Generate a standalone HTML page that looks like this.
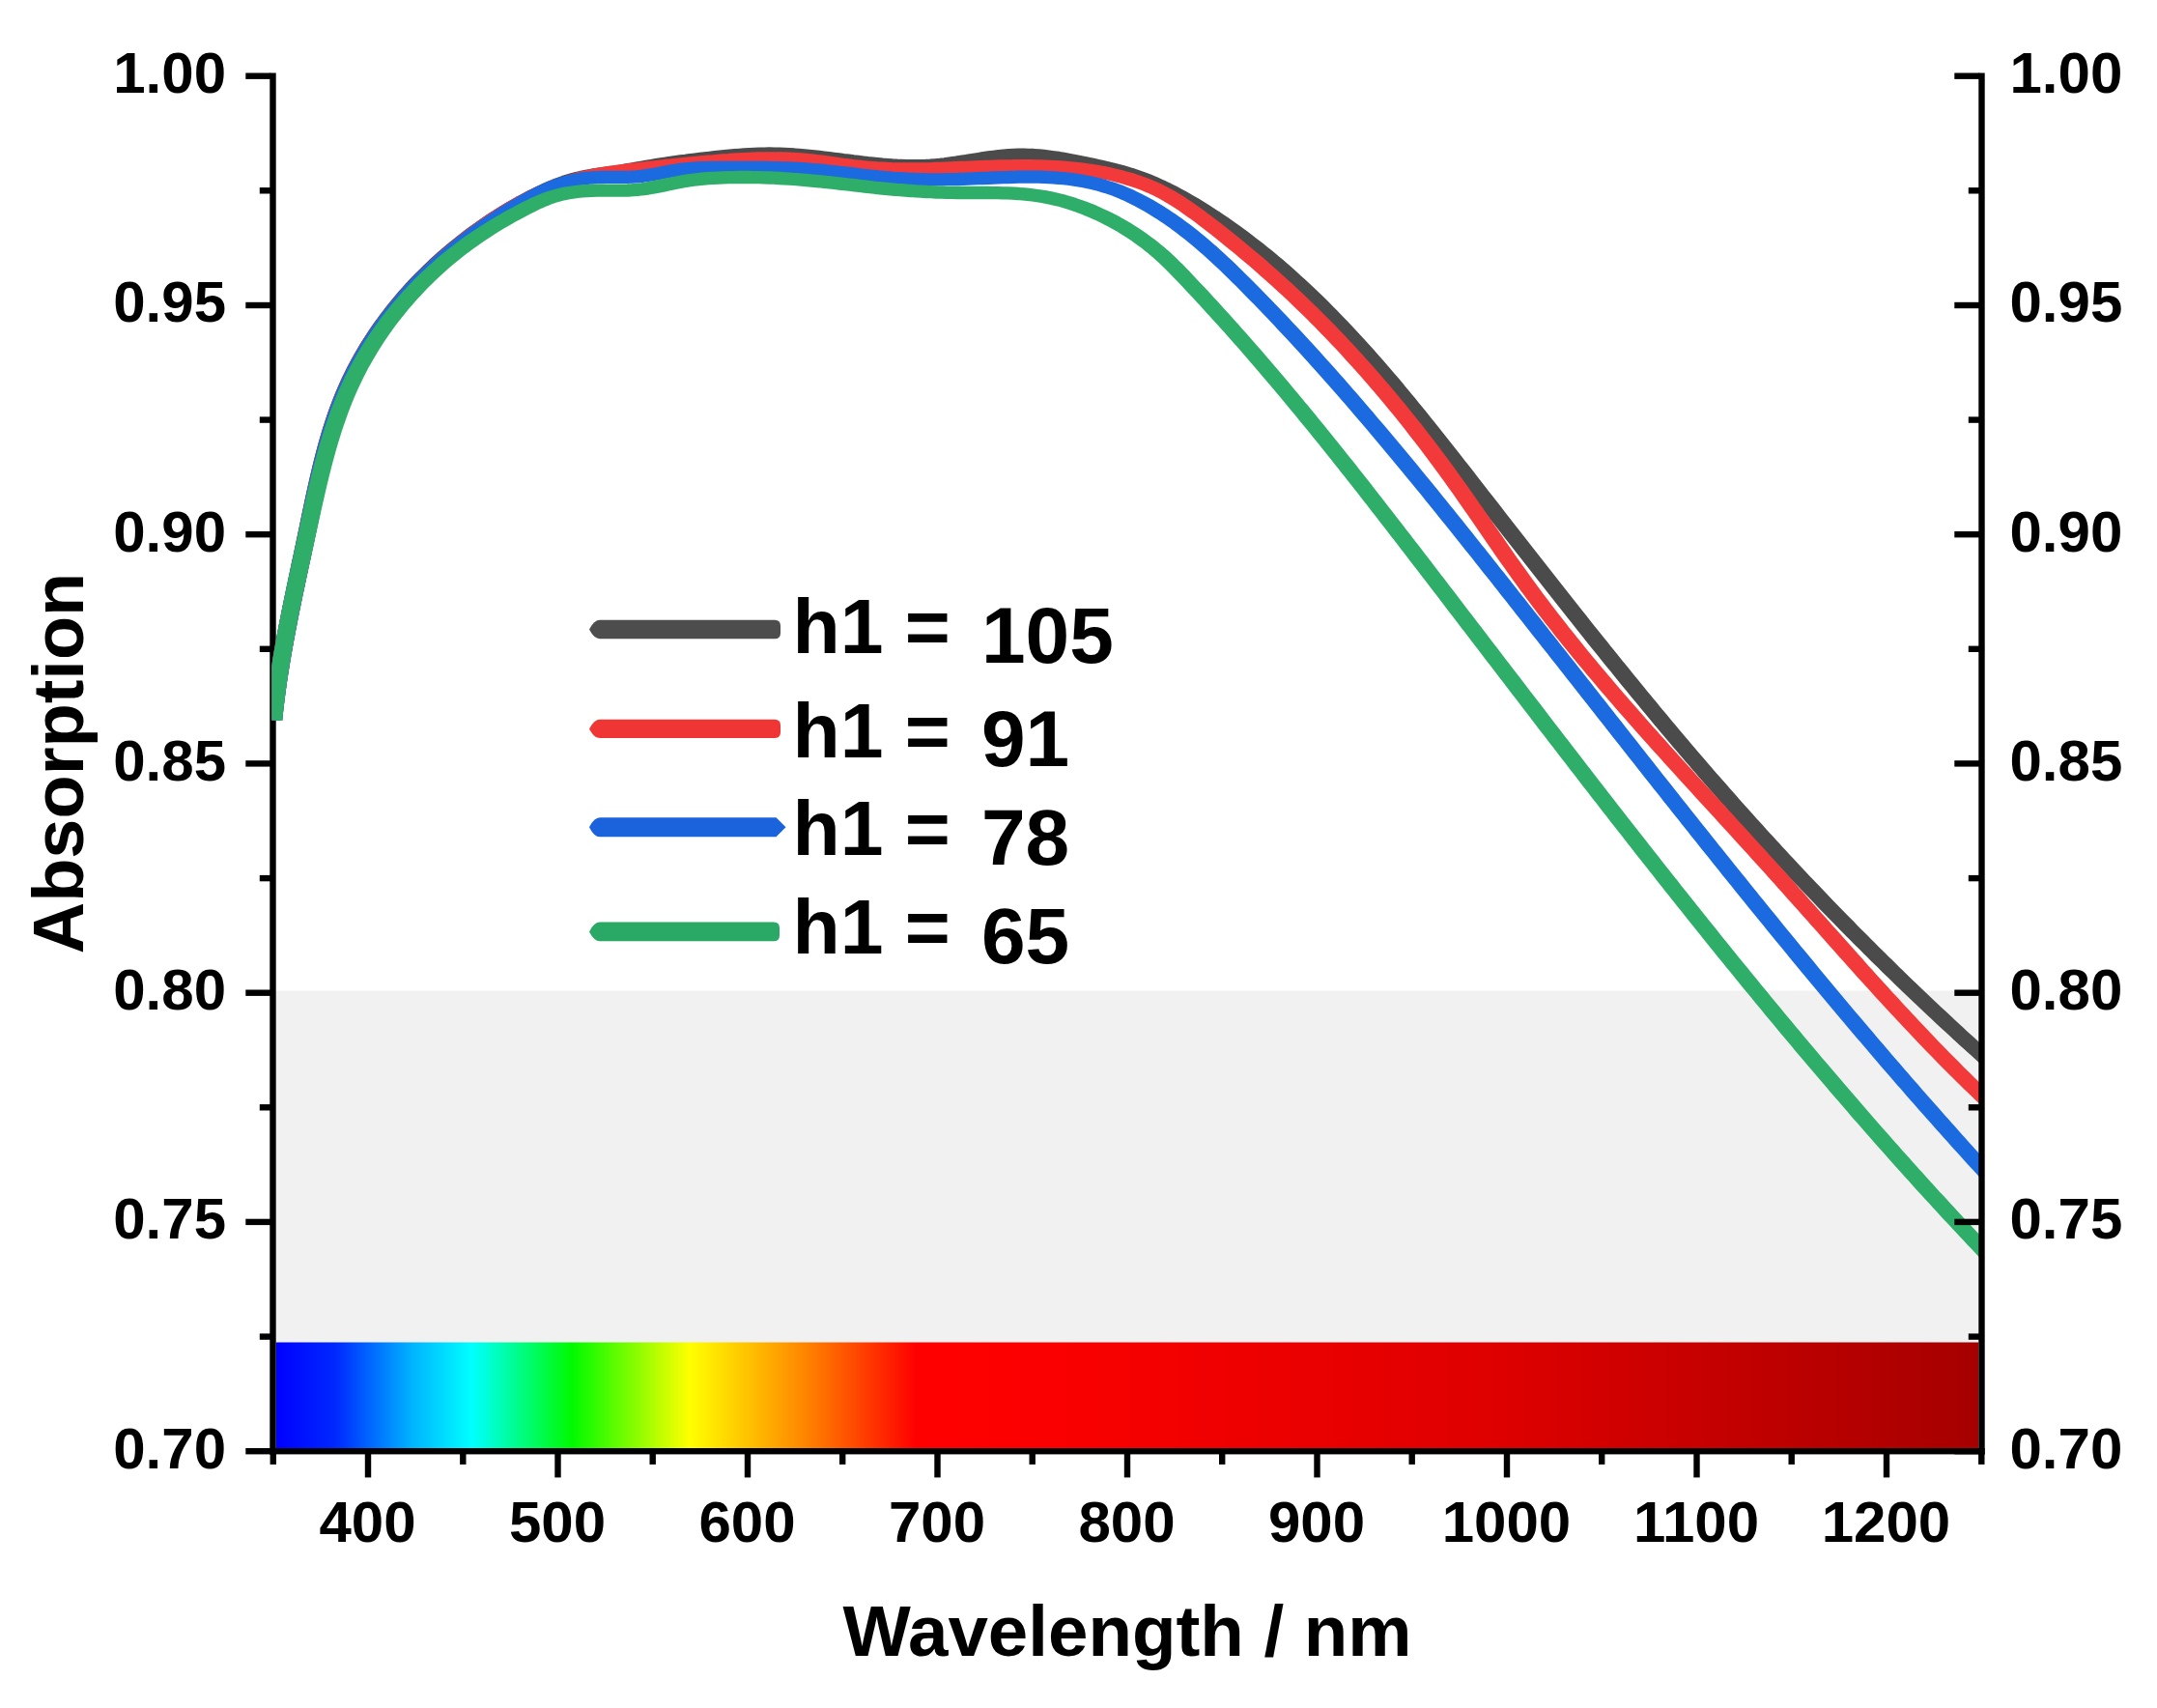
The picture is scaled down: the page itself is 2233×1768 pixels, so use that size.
<!DOCTYPE html>
<html lang="en">
<head>
<meta charset="utf-8">
<title>Absorption vs Wavelength</title>
<style>
html,body{margin:0;padding:0;background:#fff;}
body{width:2233px;height:1768px;overflow:hidden;}
svg{display:block;}
svg text{font-family:"Liberation Sans",sans-serif;font-weight:700;fill:#000;}
</style>
</head>
<body>
<svg width="2233" height="1768" viewBox="0 0 2233 1768">
<defs>
<linearGradient id="spec" x1="285.7" x2="2048.3" y1="0" y2="0" gradientUnits="userSpaceOnUse">
<stop offset="0" stop-color="#0000ff"/>
<stop offset="0.035" stop-color="#0028ff"/>
<stop offset="0.08" stop-color="#00b4ff"/>
<stop offset="0.115" stop-color="#00ffff"/>
<stop offset="0.174" stop-color="#00fa00"/>
<stop offset="0.243" stop-color="#ffff00"/>
<stop offset="0.307" stop-color="#ff8c00"/>
<stop offset="0.376" stop-color="#ff0000"/>
<stop offset="0.46" stop-color="#fa0000"/>
<stop offset="0.72" stop-color="#de0000"/>
<stop offset="1" stop-color="#a60000"/>
</linearGradient>
<clipPath id="plotclip"><rect x="281.3" y="60" width="1772.4" height="1442.2"/></clipPath>
</defs>
<rect x="0" y="0" width="2233" height="1768" fill="#ffffff"/>
<!-- shaded band and spectrum bar -->
<rect x="285.7" y="1025.5" width="1762.6" height="364.5" fill="#f1f1f1"/>
<rect x="285.7" y="1389.5" width="1762.6" height="112.7" fill="url(#spec)"/>
<!-- left and bottom axes -->
<g fill="#000">
<rect x="279.3" y="75.5" width="6.4" height="1429.9"/>
<rect x="279.3" y="1499.0" width="1775.4" height="6.4"/>
<rect x="254.3" y="1499.0" width="26.0" height="6.4"/>
<rect x="268.8" y="1380.4" width="11.5" height="6.4"/>
<rect x="254.3" y="1261.7" width="26.0" height="6.4"/>
<rect x="268.8" y="1143.1" width="11.5" height="6.4"/>
<rect x="254.3" y="1024.5" width="26.0" height="6.4"/>
<rect x="268.8" y="905.9" width="11.5" height="6.4"/>
<rect x="254.3" y="787.2" width="26.0" height="6.4"/>
<rect x="268.8" y="668.6" width="11.5" height="6.4"/>
<rect x="254.3" y="550.0" width="26.0" height="6.4"/>
<rect x="268.8" y="431.4" width="11.5" height="6.4"/>
<rect x="254.3" y="312.8" width="26.0" height="6.4"/>
<rect x="268.8" y="194.1" width="11.5" height="6.4"/>
<rect x="254.3" y="75.5" width="26.0" height="6.4"/>
<rect x="279.6" y="1504.4" width="6.4" height="11.5"/>
<rect x="377.8" y="1504.4" width="6.4" height="25.0"/>
<rect x="476.1" y="1504.4" width="6.4" height="11.5"/>
<rect x="574.3" y="1504.4" width="6.4" height="25.0"/>
<rect x="672.5" y="1504.4" width="6.4" height="11.5"/>
<rect x="770.8" y="1504.4" width="6.4" height="25.0"/>
<rect x="869.0" y="1504.4" width="6.4" height="11.5"/>
<rect x="967.3" y="1504.4" width="6.4" height="25.0"/>
<rect x="1065.5" y="1504.4" width="6.4" height="11.5"/>
<rect x="1163.8" y="1504.4" width="6.4" height="25.0"/>
<rect x="1262.0" y="1504.4" width="6.4" height="11.5"/>
<rect x="1360.3" y="1504.4" width="6.4" height="25.0"/>
<rect x="1458.5" y="1504.4" width="6.4" height="11.5"/>
<rect x="1556.8" y="1504.4" width="6.4" height="25.0"/>
<rect x="1655.0" y="1504.4" width="6.4" height="11.5"/>
<rect x="1753.3" y="1504.4" width="6.4" height="25.0"/>
<rect x="1851.5" y="1504.4" width="6.4" height="11.5"/>
<rect x="1949.8" y="1504.4" width="6.4" height="25.0"/>
<rect x="2048.1" y="1504.4" width="6.4" height="11.5"/>
</g>
<!-- curves -->
<g clip-path="url(#plotclip)">
<g transform="scale(1.38,1)" fill="none" stroke-width="13.3" stroke-linejoin="round" stroke-linecap="butt">
<path d="M205.06,745.6 L205.45,740.5 L205.86,735.3 L206.29,730.3 L206.74,725.2 L207.22,720.1 L207.71,715.0 L208.22,710.0 L208.75,704.9 L209.29,699.9 L209.86,694.9 L210.43,689.8 L211.03,684.8 L211.63,679.8 L212.26,674.8 L212.89,669.8 L213.54,664.8 L214.20,659.9 L214.87,654.9 L215.55,649.9 L216.24,644.9 L216.94,639.9 L217.65,635.0 L218.36,630.0 L219.09,625.0 L219.82,620.1 L220.55,615.1 L221.29,610.1 L222.04,605.2 L222.79,600.2 L223.55,595.3 L224.30,590.3 L225.06,585.3 L225.82,580.3 L226.58,575.4 L227.34,570.4 L228.11,565.4 L228.86,560.4 L229.62,555.4 L230.38,550.4 L231.13,545.4 L231.88,540.4 L232.64,535.4 L233.39,530.4 L234.16,525.4 L234.92,520.3 L235.70,515.3 L236.48,510.3 L237.28,505.3 L238.09,500.3 L238.91,495.3 L239.75,490.3 L240.61,485.4 L241.49,480.4 L242.39,475.4 L243.31,470.5 L244.25,465.6 L245.23,460.6 L246.23,455.7 L247.26,450.8 L248.32,446.0 L249.42,441.1 L250.55,436.3 L251.72,431.5 L252.92,426.7 L254.17,421.9 L255.46,417.2 L256.79,412.5 L258.16,407.8 L259.59,403.1 L261.06,398.5 L262.58,393.9 L264.15,389.4 L265.77,384.8 L267.43,380.3 L269.14,375.8 L270.90,371.4 L272.70,367.0 L274.55,362.6 L276.44,358.3 L278.38,354.0 L280.36,349.7 L282.38,345.5 L284.44,341.3 L286.55,337.1 L288.69,333.0 L290.88,328.9 L293.10,324.8 L295.36,320.8 L297.67,316.8 L300.00,312.9 L302.38,309.0 L304.79,305.1 L307.24,301.3 L309.72,297.5 L312.23,293.7 L314.78,290.0 L317.37,286.4 L319.98,282.8 L322.63,279.2 L325.31,275.6 L328.01,272.1 L330.75,268.7 L333.52,265.3 L336.32,261.9 L339.14,258.6 L341.99,255.3 L344.87,252.1 L347.78,248.9 L350.71,245.8 L353.66,242.7 L356.64,239.6 L359.64,236.7 L362.67,233.7 L365.72,230.8 L368.79,228.0 L371.88,225.2 L374.99,222.4 L378.12,219.7 L381.27,217.0 L384.44,214.4 L387.63,211.9 L390.83,209.4 L394.05,207.0 L397.29,204.6 L400.54,202.2 L403.82,200.0 L407.11,197.8 L410.43,195.7 L413.77,193.6 L417.15,191.7 L420.55,189.9 L423.99,188.2 L427.46,186.7 L430.97,185.3 L434.52,184.0 L438.11,182.9 L441.74,181.9 L445.40,181.1 L449.09,180.3 L452.78,179.6 L456.48,178.9 L460.18,178.2 L463.85,177.5 L467.51,176.7 L471.15,175.8 L474.78,174.9 L478.41,174.0 L482.03,173.1 L485.65,172.2 L489.28,171.4 L492.90,170.6 L496.53,169.8 L500.16,169.1 L503.79,168.3 L507.43,167.6 L511.07,166.9 L514.71,166.3 L518.36,165.6 L522.01,165.0 L525.66,164.4 L529.32,163.8 L532.99,163.2 L536.66,162.6 L540.33,162.1 L544.01,161.6 L547.69,161.1 L551.37,160.7 L555.06,160.3 L558.75,159.9 L562.44,159.6 L566.12,159.4 L569.81,159.2 L573.50,159.1 L577.19,159.0 L580.88,159.1 L584.56,159.2 L588.25,159.4 L591.93,159.7 L595.61,160.0 L599.29,160.4 L602.96,160.8 L606.64,161.3 L610.31,161.8 L613.98,162.4 L617.66,163.0 L621.33,163.6 L625.00,164.2 L628.66,164.8 L632.33,165.5 L636.00,166.1 L639.66,166.8 L643.33,167.4 L646.99,168.0 L650.65,168.6 L654.31,169.1 L657.97,169.6 L661.64,170.1 L665.30,170.5 L668.96,170.9 L672.62,171.2 L676.27,171.4 L679.93,171.6 L683.59,171.7 L687.25,171.7 L690.91,171.7 L694.57,171.5 L698.23,171.2 L701.88,170.8 L705.54,170.4 L709.20,169.8 L712.86,169.1 L716.52,168.4 L720.18,167.6 L723.84,166.9 L727.50,166.0 L731.16,165.2 L734.82,164.4 L738.49,163.6 L742.15,162.9 L745.82,162.2 L749.48,161.6 L753.15,161.1 L756.82,160.7 L760.49,160.4 L764.16,160.2 L767.83,160.1 L771.50,160.3 L775.17,160.5 L778.85,160.9 L782.52,161.4 L786.18,162.0 L789.85,162.7 L793.51,163.4 L797.17,164.3 L800.82,165.2 L804.46,166.1 L808.10,167.1 L811.73,168.1 L815.35,169.2 L818.96,170.2 L822.56,171.3 L826.15,172.4 L829.73,173.5 L833.29,174.7 L836.84,176.0 L840.37,177.3 L843.88,178.7 L847.38,180.1 L850.86,181.7 L854.32,183.4 L857.76,185.2 L861.19,187.0 L864.59,189.0 L867.97,191.1 L871.33,193.2 L874.67,195.4 L877.99,197.7 L881.29,200.1 L884.57,202.5 L887.83,205.0 L891.07,207.6 L894.29,210.2 L897.48,212.9 L900.66,215.6 L903.81,218.3 L906.94,221.1 L910.06,223.9 L913.15,226.8 L916.22,229.7 L919.26,232.6 L922.29,235.5 L925.30,238.5 L928.29,241.5 L931.26,244.5 L934.21,247.6 L937.14,250.7 L940.05,253.8 L942.94,256.9 L945.82,260.1 L948.68,263.3 L951.52,266.5 L954.34,269.8 L957.14,273.0 L959.93,276.3 L962.70,279.6 L965.46,283.0 L968.20,286.4 L970.92,289.8 L973.63,293.2 L976.32,296.6 L979.00,300.1 L981.67,303.6 L984.32,307.1 L986.95,310.6 L989.57,314.1 L992.18,317.7 L994.77,321.3 L997.36,324.9 L999.92,328.5 L1002.48,332.2 L1005.02,335.8 L1007.56,339.5 L1010.08,343.2 L1012.58,346.9 L1015.08,350.6 L1017.57,354.4 L1020.04,358.1 L1022.51,361.9 L1024.97,365.7 L1027.41,369.5 L1029.85,373.3 L1032.28,377.1 L1034.69,381.0 L1037.10,384.8 L1039.50,388.7 L1041.90,392.6 L1044.28,396.4 L1046.66,400.3 L1049.03,404.3 L1051.39,408.2 L1053.75,412.1 L1056.09,416.0 L1058.44,420.0 L1060.77,423.9 L1063.11,427.9 L1065.43,431.9 L1067.75,435.8 L1070.07,439.8 L1072.38,443.8 L1074.68,447.8 L1076.99,451.8 L1079.28,455.8 L1081.58,459.8 L1083.87,463.8 L1086.16,467.8 L1088.44,471.8 L1090.73,475.8 L1093.01,479.9 L1095.29,483.9 L1097.56,487.9 L1099.84,491.9 L1102.11,496.0 L1104.39,500.0 L1106.66,504.0 L1108.93,508.0 L1111.20,512.1 L1113.47,516.1 L1115.75,520.1 L1118.02,524.1 L1120.29,528.1 L1122.56,532.2 L1124.83,536.2 L1127.10,540.2 L1129.37,544.2 L1131.64,548.2 L1133.91,552.3 L1136.18,556.3 L1138.45,560.3 L1140.72,564.3 L1142.99,568.3 L1145.26,572.3 L1147.54,576.3 L1149.81,580.3 L1152.08,584.3 L1154.36,588.3 L1156.63,592.3 L1158.91,596.3 L1161.19,600.3 L1163.46,604.3 L1165.74,608.3 L1168.02,612.3 L1170.31,616.3 L1172.59,620.3 L1174.87,624.3 L1177.16,628.3 L1179.45,632.3 L1181.73,636.3 L1184.03,640.2 L1186.32,644.2 L1188.61,648.2 L1190.91,652.2 L1193.20,656.1 L1195.50,660.1 L1197.81,664.1 L1200.11,668.0 L1202.41,672.0 L1204.72,675.9 L1207.03,679.9 L1209.34,683.9 L1211.66,687.8 L1213.98,691.7 L1216.30,695.7 L1218.62,699.6 L1220.94,703.6 L1223.27,707.5 L1225.60,711.4 L1227.94,715.4 L1230.27,719.3 L1232.61,723.2 L1234.96,727.1 L1237.30,731.0 L1239.65,735.0 L1242.00,738.9 L1244.36,742.8 L1246.72,746.7 L1249.08,750.6 L1251.44,754.5 L1253.81,758.4 L1256.19,762.2 L1258.56,766.1 L1260.94,770.0 L1263.33,773.9 L1265.72,777.7 L1268.11,781.6 L1270.51,785.5 L1272.91,789.3 L1275.31,793.2 L1277.72,797.0 L1280.13,800.9 L1282.55,804.7 L1284.97,808.6 L1287.40,812.4 L1289.83,816.2 L1292.27,820.0 L1294.71,823.9 L1297.15,827.7 L1299.60,831.5 L1302.05,835.3 L1304.51,839.1 L1306.97,842.9 L1309.43,846.7 L1311.90,850.5 L1314.37,854.2 L1316.85,858.0 L1319.33,861.8 L1321.82,865.6 L1324.31,869.3 L1326.81,873.1 L1329.30,876.8 L1331.81,880.6 L1334.31,884.3 L1336.82,888.1 L1339.34,891.8 L1341.86,895.5 L1344.38,899.2 L1346.91,902.9 L1349.44,906.7 L1351.98,910.4 L1354.52,914.1 L1357.06,917.8 L1359.61,921.4 L1362.16,925.1 L1364.72,928.8 L1367.28,932.5 L1369.84,936.2 L1372.41,939.8 L1374.98,943.5 L1377.56,947.1 L1380.14,950.8 L1382.72,954.4 L1385.31,958.0 L1387.90,961.7 L1390.50,965.3 L1393.10,968.9 L1395.70,972.5 L1398.31,976.1 L1400.92,979.7 L1403.53,983.3 L1406.15,986.9 L1408.78,990.5 L1411.40,994.1 L1414.03,997.6 L1416.67,1001.2 L1419.30,1004.8 L1421.95,1008.3 L1424.59,1011.9 L1427.24,1015.4 L1429.89,1018.9 L1432.55,1022.5 L1435.21,1026.0 L1437.88,1029.5 L1440.54,1033.0 L1443.22,1036.5 L1445.89,1040.0 L1448.57,1043.5 L1451.25,1047.0 L1453.94,1050.4 L1456.63,1053.9 L1459.32,1057.4 L1462.02,1060.8 L1464.72,1064.3 L1467.43,1067.7 L1470.14,1071.2 L1472.85,1074.6 L1475.56,1078.0 L1478.28,1081.4 L1481.01,1084.8 L1483.73,1088.2 L1486.46,1091.6 L1500.95,1109.8" stroke="#4b4b4b"/>
<path d="M205.09,745.6 L205.46,740.4 L205.86,735.2 L206.28,730.1 L206.73,725.0 L207.19,719.8 L207.68,714.7 L208.19,709.6 L208.72,704.5 L209.27,699.4 L209.84,694.4 L210.42,689.3 L211.02,684.2 L211.64,679.2 L212.27,674.1 L212.92,669.1 L213.58,664.1 L214.25,659.1 L214.94,654.0 L215.64,649.0 L216.34,644.0 L217.06,639.0 L217.79,634.0 L218.52,629.0 L219.27,624.0 L220.02,619.0 L220.77,614.0 L221.53,609.0 L222.30,604.0 L223.06,599.0 L223.83,594.0 L224.61,589.0 L225.38,584.0 L226.16,578.9 L226.93,573.9 L227.70,568.9 L228.48,563.9 L229.24,558.8 L230.01,553.8 L230.77,548.7 L231.53,543.7 L232.29,538.6 L233.04,533.6 L233.80,528.5 L234.57,523.4 L235.34,518.4 L236.12,513.3 L236.91,508.2 L237.71,503.2 L238.52,498.1 L239.35,493.1 L240.20,488.0 L241.06,483.0 L241.95,478.0 L242.86,473.0 L243.79,468.0 L244.76,463.0 L245.75,458.0 L246.77,453.1 L247.82,448.2 L248.90,443.3 L250.02,438.4 L251.18,433.5 L252.38,428.7 L253.62,423.8 L254.91,419.1 L256.24,414.3 L257.61,409.6 L259.04,404.9 L260.51,400.2 L262.04,395.5 L263.62,390.9 L265.25,386.4 L266.93,381.8 L268.66,377.3 L270.44,372.8 L272.26,368.4 L274.14,364.0 L276.05,359.6 L278.02,355.3 L280.03,351.0 L282.08,346.7 L284.17,342.5 L286.31,338.3 L288.49,334.2 L290.71,330.1 L292.97,326.0 L295.26,321.9 L297.60,317.9 L299.97,314.0 L302.38,310.0 L304.82,306.1 L307.30,302.3 L309.81,298.5 L312.35,294.7 L314.93,291.0 L317.54,287.3 L320.18,283.6 L322.85,280.0 L325.54,276.4 L328.27,272.9 L331.02,269.4 L333.80,265.9 L336.61,262.5 L339.43,259.1 L342.29,255.8 L345.16,252.5 L348.06,249.2 L350.99,246.0 L353.93,242.9 L356.90,239.8 L359.89,236.7 L362.91,233.7 L365.95,230.7 L369.01,227.8 L372.10,225.0 L375.22,222.2 L378.36,219.4 L381.52,216.8 L384.72,214.2 L387.94,211.6 L391.19,209.2 L394.46,206.8 L397.76,204.4 L401.09,202.2 L404.45,200.0 L407.83,197.9 L411.24,195.8 L414.68,193.9 L418.14,192.1 L421.62,190.3 L425.13,188.7 L428.66,187.1 L432.22,185.7 L435.80,184.3 L439.40,183.1 L443.02,182.0 L446.66,181.0 L450.31,180.0 L453.98,179.2 L457.66,178.4 L461.36,177.7 L465.06,177.0 L468.76,176.4 L472.47,175.7 L476.18,175.2 L479.89,174.6 L483.60,174.0 L487.30,173.4 L491.00,172.9 L494.70,172.3 L498.40,171.7 L502.10,171.2 L505.79,170.6 L509.49,170.1 L513.19,169.6 L516.88,169.1 L520.58,168.6 L524.28,168.1 L527.98,167.6 L531.68,167.2 L535.38,166.8 L539.08,166.3 L542.79,165.9 L546.50,165.6 L550.22,165.2 L553.93,164.9 L557.65,164.6 L561.37,164.4 L565.09,164.2 L568.81,164.0 L572.53,163.9 L576.25,163.8 L579.97,163.8 L583.69,163.8 L587.40,163.9 L591.12,164.1 L594.82,164.4 L598.53,164.7 L602.23,165.1 L605.92,165.5 L609.61,166.1 L613.29,166.7 L616.98,167.4 L620.66,168.1 L624.34,168.8 L628.02,169.5 L631.70,170.2 L635.39,170.8 L639.08,171.5 L642.78,172.0 L646.48,172.6 L650.18,173.1 L653.89,173.5 L657.59,173.9 L661.30,174.2 L665.01,174.5 L668.72,174.7 L672.43,174.8 L676.14,174.9 L679.85,175.0 L683.55,175.0 L687.26,175.0 L690.97,174.9 L694.68,174.8 L698.39,174.7 L702.10,174.5 L705.82,174.3 L709.53,174.1 L713.25,173.9 L716.97,173.7 L720.69,173.5 L724.42,173.3 L728.15,173.1 L731.88,172.9 L735.61,172.7 L739.35,172.5 L743.08,172.3 L746.81,172.1 L750.55,172.0 L754.28,171.9 L758.02,171.8 L761.75,171.7 L765.48,171.7 L769.21,171.7 L772.93,171.7 L776.66,171.8 L780.38,171.9 L784.10,172.1 L787.81,172.3 L791.52,172.6 L795.23,172.9 L798.93,173.3 L802.62,173.8 L806.31,174.3 L809.99,174.8 L813.67,175.5 L817.34,176.2 L821.00,177.0 L824.66,177.9 L828.30,178.8 L831.94,179.9 L835.57,181.0 L839.19,182.2 L842.79,183.6 L846.38,185.0 L849.94,186.5 L853.47,188.1 L856.97,189.9 L860.44,191.7 L863.86,193.7 L867.25,195.8 L870.58,198.1 L873.87,200.5 L877.11,203.0 L880.30,205.6 L883.46,208.3 L886.59,211.1 L889.68,213.9 L892.74,216.9 L895.78,219.9 L898.79,222.9 L901.78,226.0 L904.76,229.1 L907.73,232.3 L910.68,235.4 L913.63,238.6 L916.56,241.8 L919.48,245.0 L922.39,248.2 L925.29,251.5 L928.18,254.7 L931.06,258.0 L933.92,261.3 L936.77,264.6 L939.62,267.9 L942.45,271.2 L945.26,274.6 L948.07,278.0 L950.87,281.4 L953.65,284.8 L956.42,288.2 L959.18,291.6 L961.93,295.1 L964.67,298.5 L967.39,302.0 L970.10,305.5 L972.81,309.1 L975.49,312.6 L978.17,316.2 L980.84,319.7 L983.49,323.3 L986.13,326.9 L988.76,330.6 L991.38,334.2 L993.99,337.9 L996.58,341.5 L999.17,345.2 L1001.74,348.9 L1004.30,352.6 L1006.85,356.4 L1009.39,360.1 L1011.92,363.9 L1014.44,367.7 L1016.94,371.5 L1019.44,375.3 L1021.92,379.1 L1024.39,382.9 L1026.85,386.8 L1029.30,390.6 L1031.74,394.5 L1034.17,398.4 L1036.59,402.3 L1039.00,406.2 L1041.39,410.2 L1043.78,414.1 L1046.16,418.1 L1048.52,422.0 L1050.87,426.0 L1053.22,430.0 L1055.55,434.0 L1057.87,438.0 L1060.19,442.1 L1062.49,446.1 L1064.78,450.2 L1067.06,454.2 L1069.33,458.3 L1071.60,462.4 L1073.85,466.5 L1076.09,470.6 L1078.32,474.7 L1080.54,478.9 L1082.75,483.0 L1084.95,487.1 L1087.15,491.3 L1089.33,495.5 L1091.50,499.7 L1093.66,503.8 L1095.82,508.0 L1097.96,512.2 L1100.10,516.5 L1102.23,520.7 L1104.36,524.9 L1106.48,529.1 L1108.60,533.4 L1110.71,537.6 L1112.83,541.8 L1114.94,546.1 L1117.05,550.3 L1119.17,554.5 L1121.28,558.8 L1123.40,563.0 L1125.52,567.2 L1127.64,571.5 L1129.77,575.7 L1131.91,579.9 L1134.05,584.1 L1136.20,588.3 L1138.35,592.4 L1140.52,596.6 L1142.70,600.8 L1144.88,604.9 L1147.08,609.1 L1149.29,613.2 L1151.51,617.3 L1153.74,621.4 L1155.98,625.5 L1158.23,629.6 L1160.49,633.7 L1162.76,637.7 L1165.04,641.8 L1167.32,645.8 L1169.62,649.8 L1171.92,653.9 L1174.24,657.9 L1176.56,661.9 L1178.89,665.9 L1181.23,669.9 L1183.57,673.8 L1185.93,677.8 L1188.29,681.8 L1190.66,685.7 L1193.03,689.6 L1195.42,693.6 L1197.81,697.5 L1200.20,701.4 L1202.60,705.3 L1205.01,709.3 L1207.43,713.2 L1209.85,717.0 L1212.28,720.9 L1214.71,724.8 L1217.14,728.7 L1219.59,732.6 L1222.04,736.4 L1224.49,740.3 L1226.94,744.1 L1229.41,748.0 L1231.87,751.8 L1234.34,755.7 L1236.82,759.5 L1239.29,763.3 L1241.78,767.2 L1244.26,771.0 L1246.75,774.8 L1249.24,778.6 L1251.73,782.4 L1254.23,786.3 L1256.73,790.1 L1259.23,793.9 L1261.73,797.7 L1264.24,801.5 L1266.74,805.3 L1269.25,809.1 L1271.76,812.9 L1274.27,816.7 L1276.79,820.5 L1279.30,824.2 L1281.81,828.0 L1284.33,831.8 L1286.84,835.6 L1289.36,839.4 L1291.87,843.2 L1294.39,847.0 L1296.90,850.8 L1299.41,854.6 L1301.93,858.4 L1304.44,862.2 L1306.95,866.0 L1309.46,869.8 L1311.97,873.6 L1314.47,877.4 L1316.98,881.2 L1319.48,885.0 L1321.98,888.8 L1324.48,892.6 L1326.98,896.4 L1329.47,900.2 L1331.96,904.0 L1334.45,907.9 L1336.93,911.7 L1339.41,915.5 L1341.89,919.3 L1344.37,923.2 L1346.85,927.0 L1349.33,930.8 L1351.80,934.7 L1354.27,938.5 L1356.75,942.3 L1359.22,946.2 L1361.69,950.0 L1364.16,953.9 L1366.63,957.7 L1369.10,961.5 L1371.57,965.4 L1374.04,969.2 L1376.52,973.0 L1378.99,976.9 L1381.46,980.7 L1383.94,984.5 L1386.42,988.4 L1388.90,992.2 L1391.38,996.0 L1393.86,999.8 L1396.34,1003.7 L1398.83,1007.5 L1401.32,1011.3 L1403.82,1015.1 L1406.31,1018.9 L1408.81,1022.7 L1411.32,1026.5 L1413.82,1030.3 L1416.33,1034.0 L1418.85,1037.8 L1421.37,1041.6 L1423.89,1045.4 L1426.42,1049.1 L1428.95,1052.9 L1431.49,1056.6 L1434.03,1060.4 L1436.58,1064.1 L1439.14,1067.8 L1441.70,1071.5 L1444.27,1075.3 L1446.84,1079.0 L1449.42,1082.7 L1452.00,1086.3 L1454.60,1090.0 L1457.20,1093.7 L1459.80,1097.4 L1462.42,1101.0 L1465.04,1104.7 L1467.67,1108.3 L1470.31,1111.9 L1472.96,1115.5 L1475.61,1119.1 L1478.27,1122.7 L1480.95,1126.3 L1483.63,1129.9 L1486.32,1133.4 L1500.81,1152.8" stroke="#f23a3a"/>
<path d="M205.07,745.6 L205.46,740.3 L205.88,735.1 L206.31,729.9 L206.77,724.6 L207.25,719.4 L207.76,714.2 L208.28,709.1 L208.82,703.9 L209.38,698.7 L209.96,693.6 L210.56,688.4 L211.17,683.3 L211.79,678.2 L212.44,673.0 L213.09,667.9 L213.76,662.8 L214.45,657.7 L215.14,652.6 L215.85,647.5 L216.57,642.5 L217.29,637.4 L218.03,632.3 L218.77,627.2 L219.52,622.1 L220.28,617.1 L221.05,612.0 L221.82,606.9 L222.59,601.8 L223.37,596.7 L224.15,591.7 L224.94,586.6 L225.72,581.5 L226.51,576.4 L227.30,571.3 L228.08,566.2 L228.87,561.1 L229.65,556.0 L230.43,550.8 L231.21,545.7 L231.99,540.6 L232.76,535.4 L233.54,530.3 L234.33,525.2 L235.12,520.0 L235.92,514.9 L236.73,509.7 L237.55,504.6 L238.39,499.5 L239.24,494.3 L240.11,489.2 L241.00,484.1 L241.91,479.0 L242.84,473.9 L243.80,468.9 L244.78,463.8 L245.80,458.8 L246.84,453.7 L247.91,448.7 L249.02,443.7 L250.17,438.8 L251.35,433.8 L252.58,428.9 L253.84,424.0 L255.15,419.2 L256.50,414.3 L257.90,409.5 L259.35,404.7 L260.85,400.0 L262.40,395.3 L264.01,390.6 L265.66,386.0 L267.37,381.3 L269.12,376.8 L270.93,372.2 L272.78,367.7 L274.68,363.3 L276.63,358.8 L278.62,354.4 L280.66,350.1 L282.74,345.7 L284.87,341.5 L287.04,337.2 L289.25,333.0 L291.50,328.8 L293.80,324.7 L296.13,320.6 L298.51,316.6 L300.92,312.5 L303.38,308.6 L305.87,304.6 L308.39,300.8 L310.95,296.9 L313.55,293.1 L316.18,289.3 L318.85,285.6 L321.55,281.9 L324.28,278.3 L327.05,274.7 L329.84,271.2 L332.67,267.7 L335.52,264.2 L338.40,260.8 L341.32,257.4 L344.26,254.1 L347.22,250.8 L350.21,247.6 L353.23,244.4 L356.27,241.2 L359.34,238.1 L362.43,235.1 L365.54,232.1 L368.67,229.2 L371.82,226.3 L375.00,223.4 L378.19,220.6 L381.40,217.9 L384.63,215.1 L387.88,212.5 L391.14,209.9 L394.42,207.3 L397.72,204.8 L401.03,202.4 L404.37,200.1 L407.75,197.8 L411.16,195.6 L414.62,193.6 L418.13,191.7 L421.69,190.0 L425.31,188.5 L428.96,187.2 L432.64,186.0 L436.36,185.1 L440.09,184.4 L443.85,184.0 L447.62,183.7 L451.40,183.5 L455.18,183.4 L458.98,183.4 L462.77,183.4 L466.56,183.4 L470.34,183.3 L474.12,183.1 L477.88,182.8 L481.63,182.3 L485.36,181.6 L489.08,180.8 L492.80,179.9 L496.50,178.9 L500.21,177.9 L503.92,177.0 L507.63,176.1 L511.35,175.4 L515.09,174.8 L518.84,174.3 L522.60,174.0 L526.37,173.7 L530.14,173.6 L533.93,173.5 L537.71,173.5 L541.49,173.5 L545.28,173.5 L549.06,173.5 L552.84,173.5 L556.62,173.5 L560.39,173.5 L564.17,173.5 L567.94,173.5 L571.71,173.5 L575.48,173.5 L579.25,173.6 L583.02,173.7 L586.79,173.8 L590.56,174.0 L594.32,174.2 L598.09,174.4 L601.86,174.7 L605.63,175.1 L609.40,175.5 L613.17,175.9 L616.94,176.4 L620.71,177.0 L624.48,177.5 L628.25,178.1 L632.02,178.7 L635.79,179.3 L639.56,179.9 L643.32,180.6 L647.09,181.2 L650.85,181.8 L654.61,182.3 L658.37,182.9 L662.12,183.4 L665.87,183.8 L669.62,184.3 L673.37,184.6 L677.11,184.9 L680.86,185.2 L684.60,185.4 L688.34,185.6 L692.09,185.7 L695.84,185.8 L699.59,185.8 L703.34,185.9 L707.10,185.8 L710.87,185.7 L714.64,185.6 L718.42,185.5 L722.21,185.3 L726.00,185.1 L729.80,184.9 L733.61,184.7 L737.42,184.5 L741.23,184.3 L745.05,184.0 L748.86,183.8 L752.68,183.6 L756.49,183.5 L760.31,183.3 L764.12,183.2 L767.92,183.1 L771.72,183.1 L775.52,183.1 L779.30,183.2 L783.08,183.4 L786.85,183.6 L790.61,183.9 L794.36,184.3 L798.10,184.7 L801.82,185.3 L805.53,185.9 L809.22,186.7 L812.90,187.6 L816.56,188.6 L820.20,189.7 L823.82,190.9 L827.42,192.3 L831.00,193.8 L834.56,195.4 L838.09,197.2 L841.60,199.1 L845.08,201.2 L848.54,203.4 L851.96,205.7 L855.35,208.1 L858.71,210.6 L862.04,213.1 L865.32,215.8 L868.58,218.6 L871.79,221.4 L874.96,224.3 L878.10,227.2 L881.20,230.2 L884.26,233.3 L887.29,236.4 L890.29,239.6 L893.26,242.8 L896.20,246.1 L899.11,249.4 L901.99,252.8 L904.85,256.2 L907.69,259.6 L910.50,263.1 L913.29,266.6 L916.06,270.2 L918.81,273.7 L921.55,277.3 L924.27,280.9 L926.97,284.6 L929.66,288.3 L932.34,291.9 L935.01,295.6 L937.67,299.3 L940.32,303.1 L942.97,306.8 L945.60,310.5 L948.23,314.3 L950.86,318.0 L953.47,321.8 L956.08,325.5 L958.68,329.3 L961.28,333.1 L963.87,336.9 L966.45,340.7 L969.03,344.5 L971.60,348.3 L974.16,352.2 L976.72,356.0 L979.27,359.8 L981.82,363.7 L984.36,367.5 L986.89,371.4 L989.42,375.3 L991.94,379.2 L994.46,383.0 L996.97,386.9 L999.47,390.8 L1001.97,394.7 L1004.47,398.6 L1006.96,402.6 L1009.45,406.5 L1011.93,410.4 L1014.40,414.3 L1016.87,418.3 L1019.34,422.2 L1021.80,426.2 L1024.26,430.1 L1026.71,434.1 L1029.16,438.1 L1031.60,442.0 L1034.04,446.0 L1036.48,450.0 L1038.91,454.0 L1041.34,458.0 L1043.76,462.0 L1046.18,466.0 L1048.60,470.0 L1051.01,474.0 L1053.42,478.0 L1055.83,482.0 L1058.23,486.0 L1060.63,490.1 L1063.03,494.1 L1065.42,498.1 L1067.81,502.2 L1070.20,506.2 L1072.58,510.2 L1074.97,514.3 L1077.35,518.3 L1079.72,522.4 L1082.10,526.5 L1084.47,530.5 L1086.84,534.6 L1089.21,538.6 L1091.58,542.7 L1093.94,546.8 L1096.30,550.8 L1098.66,554.9 L1101.02,559.0 L1103.38,563.1 L1105.74,567.2 L1108.09,571.2 L1110.44,575.3 L1112.79,579.4 L1115.14,583.5 L1117.49,587.6 L1119.84,591.7 L1122.19,595.7 L1124.54,599.8 L1126.88,603.9 L1129.23,608.0 L1131.57,612.1 L1133.91,616.2 L1136.26,620.3 L1138.60,624.4 L1140.94,628.5 L1143.28,632.6 L1145.62,636.7 L1147.96,640.8 L1150.30,644.9 L1152.64,649.0 L1154.98,653.1 L1157.32,657.2 L1159.66,661.3 L1162.00,665.4 L1164.33,669.5 L1166.67,673.5 L1169.01,677.6 L1171.35,681.7 L1173.68,685.8 L1176.02,689.9 L1178.35,694.0 L1180.69,698.1 L1183.03,702.2 L1185.36,706.3 L1187.70,710.4 L1190.04,714.5 L1192.37,718.6 L1194.71,722.7 L1197.04,726.8 L1199.38,730.9 L1201.72,735.0 L1204.05,739.1 L1206.39,743.2 L1208.73,747.3 L1211.06,751.4 L1213.40,755.5 L1215.74,759.6 L1218.08,763.7 L1220.42,767.8 L1222.76,771.9 L1225.10,776.0 L1227.44,780.1 L1229.78,784.2 L1232.12,788.3 L1234.46,792.4 L1236.80,796.5 L1239.14,800.6 L1241.49,804.7 L1243.83,808.8 L1246.17,812.9 L1248.52,816.9 L1250.87,821.0 L1253.21,825.1 L1255.56,829.2 L1257.91,833.3 L1260.26,837.4 L1262.61,841.5 L1264.96,845.5 L1267.31,849.6 L1269.66,853.7 L1272.02,857.8 L1274.37,861.9 L1276.73,865.9 L1279.08,870.0 L1281.44,874.1 L1283.80,878.2 L1286.16,882.2 L1288.52,886.3 L1290.89,890.4 L1293.25,894.4 L1295.61,898.5 L1297.98,902.6 L1300.35,906.6 L1302.72,910.7 L1305.09,914.7 L1307.46,918.8 L1309.83,922.8 L1312.21,926.9 L1314.58,931.0 L1316.96,935.0 L1319.34,939.1 L1321.72,943.1 L1324.10,947.1 L1326.49,951.2 L1328.87,955.2 L1331.26,959.3 L1333.65,963.3 L1336.04,967.3 L1338.43,971.4 L1340.83,975.4 L1343.22,979.4 L1345.62,983.5 L1348.02,987.5 L1350.42,991.5 L1352.83,995.5 L1355.23,999.5 L1357.64,1003.6 L1360.05,1007.6 L1362.46,1011.6 L1364.88,1015.6 L1367.29,1019.6 L1369.71,1023.6 L1372.13,1027.6 L1374.55,1031.6 L1376.98,1035.6 L1379.40,1039.6 L1381.83,1043.6 L1384.26,1047.6 L1386.70,1051.6 L1389.13,1055.5 L1391.57,1059.5 L1394.01,1063.5 L1396.46,1067.5 L1398.90,1071.4 L1401.35,1075.4 L1403.80,1079.4 L1406.25,1083.3 L1408.71,1087.3 L1411.17,1091.3 L1413.63,1095.2 L1416.09,1099.2 L1418.56,1103.1 L1421.03,1107.1 L1423.50,1111.0 L1425.98,1114.9 L1428.45,1118.9 L1430.93,1122.8 L1433.42,1126.7 L1435.90,1130.7 L1438.39,1134.6 L1440.88,1138.5 L1443.38,1142.4 L1445.88,1146.3 L1448.38,1150.2 L1450.88,1154.1 L1453.39,1158.0 L1455.90,1161.9 L1458.41,1165.8 L1460.93,1169.7 L1463.45,1173.6 L1465.97,1177.5 L1468.49,1181.4 L1471.02,1185.3 L1473.56,1189.1 L1476.09,1193.0 L1478.63,1196.9 L1481.17,1200.7 L1483.72,1204.6 L1486.27,1208.4 L1500.76,1230.4" stroke="#1b6ae0"/>
<path d="M205.09,745.6 L205.48,740.3 L205.89,735.0 L206.33,729.7 L206.79,724.4 L207.27,719.2 L207.77,713.9 L208.29,708.7 L208.84,703.4 L209.40,698.2 L209.99,693.0 L210.59,687.8 L211.21,682.6 L211.84,677.4 L212.49,672.2 L213.16,667.0 L213.84,661.9 L214.54,656.7 L215.25,651.5 L215.97,646.4 L216.70,641.2 L217.44,636.1 L218.20,630.9 L218.96,625.8 L219.73,620.7 L220.51,615.5 L221.30,610.4 L222.09,605.2 L222.89,600.1 L223.70,595.0 L224.51,589.8 L225.32,584.7 L226.13,579.5 L226.95,574.4 L227.77,569.2 L228.59,564.1 L229.41,558.9 L230.23,553.7 L231.05,548.5 L231.87,543.4 L232.69,538.2 L233.51,533.0 L234.34,527.8 L235.17,522.6 L236.01,517.5 L236.87,512.3 L237.73,507.1 L238.61,501.9 L239.51,496.8 L240.42,491.6 L241.36,486.5 L242.31,481.3 L243.29,476.2 L244.29,471.1 L245.32,466.0 L246.37,460.9 L247.46,455.8 L248.58,450.8 L249.73,445.8 L250.92,440.7 L252.15,435.8 L253.41,430.8 L254.72,425.8 L256.07,420.9 L257.46,416.0 L258.90,411.2 L260.39,406.3 L261.92,401.5 L263.51,396.8 L265.15,392.0 L266.85,387.3 L268.59,382.7 L270.38,378.0 L272.23,373.4 L274.12,368.9 L276.06,364.3 L278.04,359.8 L280.08,355.4 L282.16,351.0 L284.29,346.6 L286.46,342.3 L288.68,338.0 L290.94,333.7 L293.25,329.5 L295.60,325.4 L297.99,321.3 L300.42,317.2 L302.90,313.2 L305.41,309.2 L307.97,305.2 L310.56,301.4 L313.19,297.5 L315.87,293.7 L318.58,290.0 L321.32,286.3 L324.11,282.7 L326.93,279.1 L329.78,275.6 L332.67,272.1 L335.59,268.7 L338.55,265.3 L341.54,262.0 L344.56,258.8 L347.62,255.6 L350.70,252.4 L353.82,249.4 L356.96,246.3 L360.13,243.4 L363.33,240.5 L366.55,237.6 L369.80,234.8 L373.07,232.0 L376.36,229.3 L379.67,226.7 L383.01,224.1 L386.36,221.6 L389.72,219.1 L393.11,216.6 L396.51,214.2 L399.92,211.9 L403.36,209.7 L406.84,207.6 L410.36,205.6 L413.94,203.9 L417.58,202.4 L421.26,201.1 L424.99,200.0 L428.76,199.2 L432.55,198.5 L436.37,197.9 L440.20,197.6 L444.03,197.3 L447.88,197.2 L451.73,197.2 L455.58,197.2 L459.43,197.2 L463.27,197.2 L467.11,197.1 L470.93,197.0 L474.75,196.7 L478.54,196.3 L482.32,195.7 L486.08,194.9 L489.82,194.0 L493.56,193.0 L497.29,192.0 L501.01,190.9 L504.74,189.8 L508.47,188.8 L512.21,187.8 L515.97,187.0 L519.73,186.3 L523.51,185.7 L527.29,185.2 L531.09,184.7 L534.89,184.4 L538.69,184.1 L542.51,183.9 L546.32,183.7 L550.14,183.6 L553.96,183.5 L557.78,183.5 L561.61,183.5 L565.44,183.6 L569.26,183.7 L573.09,183.8 L576.92,184.0 L580.74,184.2 L584.57,184.5 L588.39,184.8 L592.22,185.1 L596.04,185.5 L599.85,185.9 L603.67,186.3 L607.48,186.8 L611.29,187.3 L615.10,187.8 L618.90,188.4 L622.71,188.9 L626.51,189.5 L630.31,190.1 L634.10,190.7 L637.90,191.3 L641.70,191.9 L645.49,192.5 L649.29,193.1 L653.08,193.7 L656.88,194.3 L660.68,194.8 L664.47,195.3 L668.27,195.8 L672.07,196.3 L675.87,196.7 L679.68,197.2 L683.48,197.5 L687.29,197.9 L691.10,198.2 L694.91,198.5 L698.73,198.7 L702.55,199.0 L706.37,199.1 L710.19,199.3 L714.02,199.4 L717.85,199.5 L721.68,199.5 L725.52,199.5 L729.35,199.5 L733.19,199.5 L737.03,199.5 L740.86,199.5 L744.70,199.6 L748.53,199.6 L752.35,199.8 L756.17,199.9 L759.99,200.2 L763.80,200.5 L767.60,200.9 L771.39,201.4 L775.17,202.0 L778.94,202.7 L782.69,203.5 L786.44,204.5 L790.17,205.6 L793.89,206.8 L797.58,208.1 L801.26,209.6 L804.92,211.2 L808.55,212.9 L812.15,214.7 L815.73,216.6 L819.28,218.6 L822.81,220.8 L826.29,223.0 L829.75,225.3 L833.17,227.7 L836.55,230.2 L839.89,232.8 L843.19,235.4 L846.45,238.2 L849.66,241.0 L852.84,243.9 L855.96,247.0 L859.04,250.1 L862.07,253.2 L865.06,256.5 L867.99,259.9 L870.87,263.3 L873.70,266.8 L876.48,270.4 L879.23,274.1 L881.94,277.8 L884.62,281.6 L887.28,285.4 L889.92,289.2 L892.54,293.1 L895.16,296.9 L897.77,300.8 L900.38,304.6 L902.98,308.5 L905.58,312.4 L908.17,316.3 L910.76,320.2 L913.34,324.1 L915.91,328.0 L918.47,331.9 L921.03,335.8 L923.58,339.7 L926.12,343.7 L928.66,347.6 L931.19,351.6 L933.72,355.5 L936.24,359.5 L938.75,363.5 L941.25,367.4 L943.75,371.4 L946.25,375.4 L948.74,379.4 L951.22,383.4 L953.70,387.5 L956.17,391.5 L958.64,395.5 L961.10,399.5 L963.56,403.6 L966.01,407.6 L968.45,411.7 L970.90,415.7 L973.33,419.8 L975.76,423.8 L978.19,427.9 L980.62,432.0 L983.03,436.1 L985.45,440.1 L987.86,444.2 L990.27,448.3 L992.67,452.4 L995.07,456.5 L997.46,460.6 L999.85,464.8 L1002.24,468.9 L1004.63,473.0 L1007.01,477.1 L1009.38,481.2 L1011.76,485.4 L1014.13,489.5 L1016.50,493.6 L1018.86,497.8 L1021.23,501.9 L1023.59,506.1 L1025.95,510.2 L1028.30,514.4 L1030.65,518.5 L1033.00,522.7 L1035.35,526.9 L1037.70,531.0 L1040.04,535.2 L1042.39,539.4 L1044.73,543.5 L1047.07,547.7 L1049.40,551.9 L1051.74,556.1 L1054.07,560.2 L1056.41,564.4 L1058.74,568.6 L1061.07,572.8 L1063.40,577.0 L1065.73,581.1 L1068.06,585.3 L1070.39,589.5 L1072.72,593.7 L1075.04,597.9 L1077.37,602.1 L1079.70,606.3 L1082.02,610.4 L1084.35,614.6 L1086.67,618.8 L1089.00,623.0 L1091.32,627.2 L1093.65,631.4 L1095.97,635.6 L1098.30,639.8 L1100.62,644.0 L1102.95,648.2 L1105.27,652.3 L1107.60,656.5 L1109.92,660.7 L1112.25,664.9 L1114.57,669.1 L1116.90,673.3 L1119.22,677.5 L1121.55,681.7 L1123.87,685.9 L1126.20,690.1 L1128.52,694.2 L1130.85,698.4 L1133.18,702.6 L1135.50,706.8 L1137.83,711.0 L1140.16,715.2 L1142.48,719.4 L1144.81,723.6 L1147.14,727.8 L1149.47,731.9 L1151.80,736.1 L1154.13,740.3 L1156.46,744.5 L1158.79,748.7 L1161.12,752.9 L1163.45,757.1 L1165.79,761.2 L1168.12,765.4 L1170.45,769.6 L1172.79,773.8 L1175.12,778.0 L1177.46,782.1 L1179.80,786.3 L1182.13,790.5 L1184.47,794.7 L1186.81,798.8 L1189.15,803.0 L1191.49,807.2 L1193.83,811.4 L1196.18,815.5 L1198.52,819.7 L1200.87,823.9 L1203.21,828.0 L1205.56,832.2 L1207.91,836.4 L1210.26,840.5 L1212.61,844.7 L1214.96,848.9 L1217.31,853.0 L1219.67,857.2 L1222.02,861.3 L1224.38,865.5 L1226.73,869.6 L1229.09,873.8 L1231.45,878.0 L1233.81,882.1 L1236.18,886.3 L1238.54,890.4 L1240.91,894.5 L1243.28,898.7 L1245.64,902.8 L1248.01,907.0 L1250.39,911.1 L1252.76,915.2 L1255.13,919.4 L1257.51,923.5 L1259.89,927.6 L1262.27,931.8 L1264.65,935.9 L1267.03,940.0 L1269.42,944.1 L1271.80,948.3 L1274.19,952.4 L1276.58,956.5 L1278.97,960.6 L1281.37,964.7 L1283.76,968.8 L1286.16,973.0 L1288.56,977.1 L1290.96,981.2 L1293.36,985.3 L1295.77,989.4 L1298.18,993.5 L1300.59,997.6 L1303.00,1001.6 L1305.41,1005.7 L1307.83,1009.8 L1310.24,1013.9 L1312.66,1018.0 L1315.09,1022.1 L1317.51,1026.1 L1319.94,1030.2 L1322.37,1034.3 L1324.80,1038.4 L1327.23,1042.4 L1329.67,1046.5 L1332.11,1050.6 L1334.55,1054.6 L1336.99,1058.7 L1339.44,1062.7 L1341.88,1066.8 L1344.33,1070.8 L1346.79,1074.9 L1349.24,1078.9 L1351.70,1082.9 L1354.16,1087.0 L1356.63,1091.0 L1359.09,1095.0 L1361.56,1099.1 L1364.03,1103.1 L1366.51,1107.1 L1368.98,1111.1 L1371.46,1115.1 L1373.94,1119.1 L1376.43,1123.1 L1378.92,1127.2 L1381.41,1131.1 L1383.90,1135.1 L1386.40,1139.1 L1388.90,1143.1 L1391.40,1147.1 L1393.91,1151.1 L1396.42,1155.1 L1398.93,1159.0 L1401.44,1163.0 L1403.96,1167.0 L1406.48,1171.0 L1409.01,1174.9 L1411.54,1178.9 L1414.07,1182.8 L1416.60,1186.8 L1419.14,1190.7 L1421.68,1194.7 L1424.22,1198.6 L1426.77,1202.5 L1429.32,1206.5 L1431.87,1210.4 L1434.43,1214.3 L1436.99,1218.2 L1439.55,1222.1 L1442.12,1226.1 L1444.69,1230.0 L1447.27,1233.9 L1449.85,1237.8 L1452.43,1241.6 L1455.01,1245.5 L1457.60,1249.4 L1460.19,1253.3 L1462.79,1257.2 L1465.39,1261.0 L1467.99,1264.9 L1470.60,1268.8 L1473.21,1272.6 L1475.83,1276.5 L1478.45,1280.3 L1481.07,1284.2 L1483.70,1288.0 L1486.33,1291.9 L1500.82,1313.1" stroke="#2fae69"/>
</g>
</g>
<!-- right axis -->
<g fill="#000">
<rect x="2048.3" y="75.5" width="6.4" height="1429.9"/>
<rect x="2023.3" y="1499.0" width="26.0" height="6.4"/>
<rect x="2037.8" y="1380.4" width="11.5" height="6.4"/>
<rect x="2023.3" y="1261.7" width="26.0" height="6.4"/>
<rect x="2037.8" y="1143.1" width="11.5" height="6.4"/>
<rect x="2023.3" y="1024.5" width="26.0" height="6.4"/>
<rect x="2037.8" y="905.9" width="11.5" height="6.4"/>
<rect x="2023.3" y="787.2" width="26.0" height="6.4"/>
<rect x="2037.8" y="668.6" width="11.5" height="6.4"/>
<rect x="2023.3" y="550.0" width="26.0" height="6.4"/>
<rect x="2037.8" y="431.4" width="11.5" height="6.4"/>
<rect x="2023.3" y="312.8" width="26.0" height="6.4"/>
<rect x="2037.8" y="194.1" width="11.5" height="6.4"/>
<rect x="2023.3" y="75.5" width="26.0" height="6.4"/>
</g>
<!-- tick labels -->
<text x="234" y="96.1" text-anchor="end" font-size="60">1.00</text>
<text x="2080.5" y="96.1" text-anchor="start" font-size="60">1.00</text>
<text x="234" y="333.4" text-anchor="end" font-size="60">0.95</text>
<text x="2080.5" y="333.4" text-anchor="start" font-size="60">0.95</text>
<text x="234" y="570.6" text-anchor="end" font-size="60">0.90</text>
<text x="2080.5" y="570.6" text-anchor="start" font-size="60">0.90</text>
<text x="234" y="807.8" text-anchor="end" font-size="60">0.85</text>
<text x="2080.5" y="807.8" text-anchor="start" font-size="60">0.85</text>
<text x="234" y="1045.1" text-anchor="end" font-size="60">0.80</text>
<text x="2080.5" y="1045.1" text-anchor="start" font-size="60">0.80</text>
<text x="234" y="1282.3" text-anchor="end" font-size="60">0.75</text>
<text x="2080.5" y="1282.3" text-anchor="start" font-size="60">0.75</text>
<text x="234" y="1519.6" text-anchor="end" font-size="60">0.70</text>
<text x="2080.5" y="1519.6" text-anchor="start" font-size="60">0.70</text>
<text x="380.5" y="1595.6" text-anchor="middle" font-size="60">400</text>
<text x="577.0" y="1595.6" text-anchor="middle" font-size="60">500</text>
<text x="773.5" y="1595.6" text-anchor="middle" font-size="60">600</text>
<text x="970.0" y="1595.6" text-anchor="middle" font-size="60">700</text>
<text x="1166.5" y="1595.6" text-anchor="middle" font-size="60">800</text>
<text x="1363.0" y="1595.6" text-anchor="middle" font-size="60">900</text>
<text x="1559.5" y="1595.6" text-anchor="middle" font-size="60">1000</text>
<text x="1756.0" y="1595.6" text-anchor="middle" font-size="60">1100</text>
<text x="1952.5" y="1595.6" text-anchor="middle" font-size="60">1200</text>
<!-- axis titles -->
<text x="1167" y="1714" text-anchor="middle" font-size="74.5">Wavelength / nm</text>
<text transform="translate(86,790) rotate(-90)" text-anchor="middle" font-size="74">Absorption</text>
<!-- legend -->
<path d="M621,641.8 H802.0 Q808.0,641.8 808.0,647.8 V655.2 Q808.0,661.2 802.0,661.2 H621 Q615,661.2 610,651.5 Q615,641.8 621,641.8 Z" fill="#4d4d4d"/>
<text x="820.5" y="676.0" font-size="80.5">h1 =</text>
<text x="1016" y="686.0" font-size="82">105</text>
<path d="M621,744.7 H802.0 Q808.0,744.7 808.0,750.7 V758.1 Q808.0,764.1 802.0,764.1 H621 Q615,764.1 610,754.4 Q615,744.7 621,744.7 Z" fill="#f03535"/>
<text x="820.5" y="783.5" font-size="80.5">h1 =</text>
<text x="1016" y="793.0" font-size="82">91</text>
<path d="M621,846.2 H803.5 L813.5,856.2 L803.5,866.2 H621 Q615,866.2 610,856.2 Q615,846.2 621,846.2 Z" fill="#1a63dc"/>
<text x="820.5" y="884.9" font-size="80.5">h1 =</text>
<text x="1016" y="894.5" font-size="82">78</text>
<path d="M621,954.6 H801.0 Q807.0,954.6 807.0,960.6 V968.2 Q807.0,974.2 801.0,974.2 H621 Q615,974.2 610,964.4 Q615,954.6 621,954.6 Z" fill="#2aa865"/>
<text x="820.5" y="986.6" font-size="80.5">h1 =</text>
<text x="1016" y="996.8" font-size="82">65</text>
</svg>
</body>
</html>
